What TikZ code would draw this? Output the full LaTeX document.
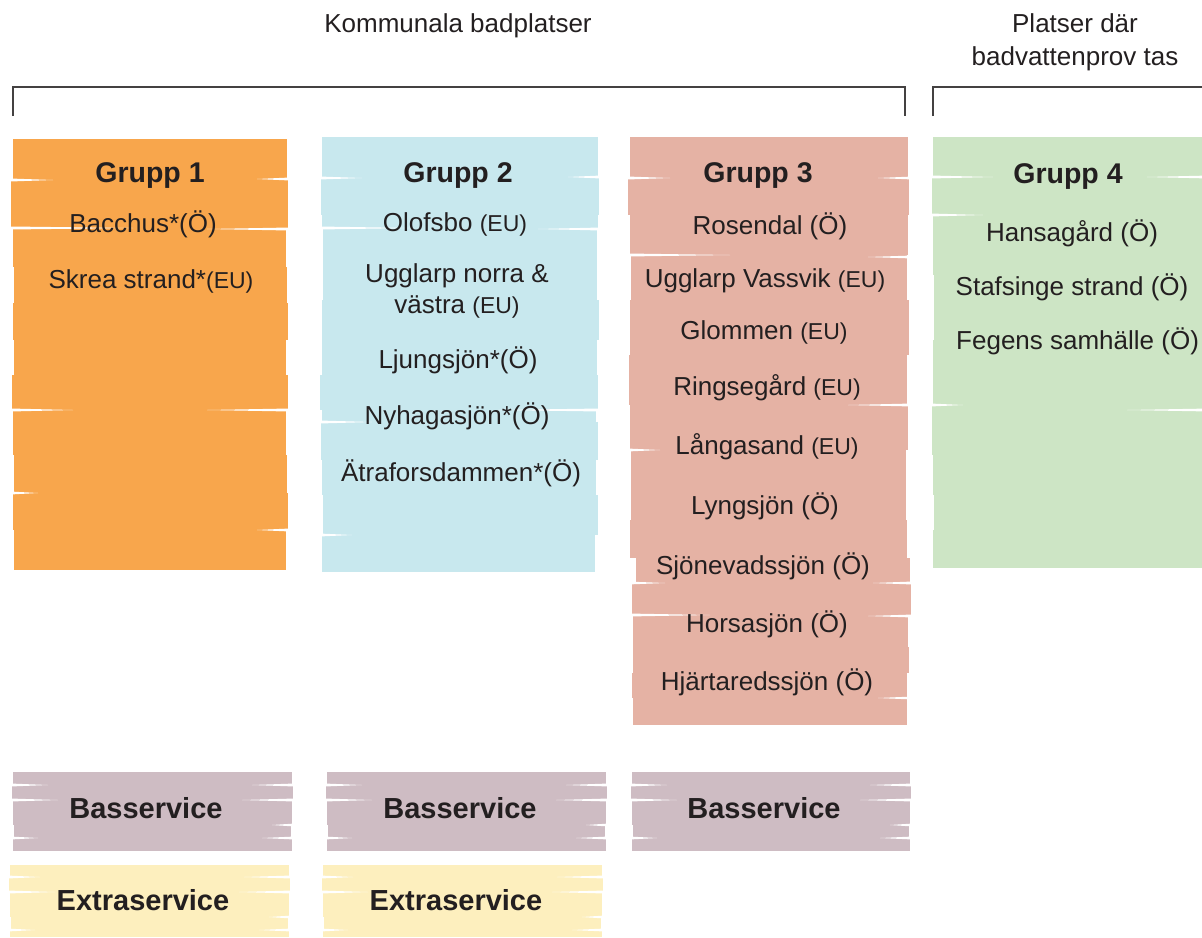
\documentclass[tikz,border=0pt]{standalone}
\usepackage{fontspec}
\setmainfont{Liberation Sans}
\usetikzlibrary{positioning}

\definecolor{grp1}{HTML}{F8A64C}
\definecolor{grp2}{HTML}{C8E8EE}
\definecolor{grp3}{HTML}{E5B2A4}
\definecolor{grp4}{HTML}{CDE5C5}
\definecolor{bas}{HTML}{CEBCC3}
\definecolor{extra}{HTML}{FDEFBE}
\definecolor{txt}{HTML}{231F20}

\newcommand{\eu}{{\fontsize{23}{28}\selectfont(EU)}}

\begin{document}
\begin{tikzpicture}[x=1pt,y=-1pt]
		\tikzset{head/.style = {text=txt,font=\bfseries\fontsize{28.5}{32}\selectfont}}
		\tikzset{service/.style = {text=txt,font=\bfseries\fontsize{29}{32}\selectfont}}
		\tikzset{site/.style = {text=txt,align=center,font=\fontsize{26}{31}\selectfont}}
		\tikzset{title/.style = {text=txt,align=center,font=\fontsize{26}{33}\selectfont}}
		\tikzset{tear/.style = {fill=white}}
		\tikzset{bracket/.style = {draw=txt!85,line width=1.6pt}}
		
		\clip (0,0) rectangle (1202,937);
		
		% Grupp 1
		\foreach \ya/\yb/\l/\r in {139/180/0/0, 180/228/-2/1, 228/267/0/-1, 267/303/1/0, 303/340/0/1, 340/375/1/-1, 375/410/-1/1, 410/455/0/-1, 455/493/1/0, 493/530/0/1, 530/570/1/-1}
			\fill[grp1] (13+\l,\ya) rectangle (287+\r,\yb);
		\foreach \y/\d in {180/40, 228/120, 410/60, 493/25}
			\fill[tear] (10,\y-1.5) -- (13+\d,\y) -- (10,\y+1.5);
		\foreach \y/\d in {179/30, 229/80, 410/80, 530/30}
			\fill[tear] (290,\y-1.5) -- (287-\d,\y) -- (290,\y+1.5);
		
		% Grupp 2
		\foreach \ya/\yb/\l/\r in {137/178/0/0, 178/215/-1/1, 215/228/0/0, 228/300/1/-1, 300/340/0/1, 340/375/0/-1, 375/410/-2/0, 410/422/0/-2, 422/460/-1/0, 460/495/0/-2, 495/535/1/0, 535/572/0/-3}
			\fill[grp2] (322+\l,\ya) rectangle (598+\r,\yb);
		\foreach \y/\d in {178/40, 228/90, 422/50, 535/30}
			\fill[tear] (319,\y-1.5) -- (322+\d,\y) -- (319,\y+1.5);
		\foreach \y/\d in {177/30, 229/60, 410/100}
			\fill[tear] (601,\y-1.5) -- (598-\d,\y) -- (601,\y+1.5);
		
		% Grupp 3
		\foreach \ya/\yb/\l/\r in {137/178/0/0, 178/215/-2/1, 215/255/0/0, 255/300/1/-1, 300/355/0/1, 355/405/-1/-1, 405/450/0/0, 450/520/1/-2, 520/558/0/-1, 558/583/6/2, 583/615/2/3, 615/647/3/0, 647/673/3/1, 673/698/2/-1, 698/725/3/-1}
			\fill[grp3] (630+\l,\ya) rectangle (908+\r,\yb);
		\foreach \y/\d in {178/40, 255/100, 450/30, 583/35, 615/80}
			\fill[tear] (627,\y-1.5) -- (630+\d,\y) -- (627,\y+1.5);
		\foreach \y/\d in {178/30, 257/40, 405/60, 583/35, 616/40, 698/30}
			\fill[tear] (913,\y-1.5) -- (908-\d,\y) -- (913,\y+1.5);
		
		% Grupp 4
		\foreach \ya/\yb/\l in {137/177/0, 177/215/-1, 215/275/0, 275/340/1, 340/405/0, 405/455/-1, 455/495/0, 495/530/1, 530/568/0}
			\fill[grp4] (933+\l,\ya) rectangle (1207,\yb);
		\foreach \y/\d in {177/60, 215/50, 405/30}
			\fill[tear] (930,\y-1.5) -- (933+\d,\y) -- (930,\y+1.5);
		\foreach \y/\d in {177/60, 410/80}
			\fill[tear] (1210,\y-1.5) -- (1207-\d,\y) -- (1210,\y+1.5);
		
		% Basservice
		\foreach \xa/\xb in {13/292, 327/606, 632/910} {
			\foreach \ya/\yb/\l/\r in {772/785/0/0, 785/800/-1/1, 800/825/0/0, 825/838/1/-1, 838/851/0/0}
				\fill[bas] (\xa+\l,\ya) rectangle (\xb+\r,\yb);
			\foreach \y/\d in {785/35, 800/45, 838/25}
				\fill[tear] (\xa-3,\y-1.5) -- (\xa+\d,\y) -- (\xa-3,\y+1.5);
			\foreach \y/\d in {785/40, 800/50, 825/20, 838/30}
				\fill[tear] (\xb+3,\y-1.5) -- (\xb-\d,\y) -- (\xb+3,\y+1.5);
		}
		
		% Extraservice
		\foreach \xa/\xb in {10/289, 323/602} {
			\foreach \ya/\yb/\l/\r in {865/877/0/0, 877/892/-1/1, 892/917/0/0, 917/930/1/-1, 930/937/0/0}
				\fill[extra] (\xa+\l,\ya) rectangle (\xb+\r,\yb);
			\foreach \y/\d in {877/30, 892/45, 930/25}
				\fill[tear] (\xa-3,\y-1.5) -- (\xa+\d,\y) -- (\xa-3,\y+1.5);
			\foreach \y/\d in {877/45, 892/50, 917/20, 930/30}
				\fill[tear] (\xb+3,\y-1.5) -- (\xb-\d,\y) -- (\xb+3,\y+1.5);
		}
		
		\node[title] (kom) at (458,26) {Kommunala badplatser};
		\node[title] (prov) at (1075,42) {Platser där\\badvattenprov tas};
		
		\coordinate (k1) at (13,116);
		\coordinate (k2) at (905,87);
		\coordinate (k3) at (905,116);
		\coordinate (p1) at (933,116);
		\coordinate (p2) at (1204,87);
		\draw[bracket] (k1) |- (k2) -- (k3);
		\draw[bracket] (p1) |- (p2);
		
		\node[head] (g1) at (150,176) {Grupp 1};
		\node[site] (g1a) at (143,224) {Bacchus*(Ö)};
		\node[site] (g1b) at (151,281) {Skrea strand*\eu};
		
		\node[head] (g2) at (458,176) {Grupp 2};
		\node[site] (g2a) at (455,224) {Olofsbo \eu};
		\node[site] (g2b) at (457,291) {Ugglarp norra \&\\västra \eu};
		\node[site] (g2c) at (458,360) {Ljungsjön*(Ö)};
		\node[site] (g2d) at (457,416) {Nyhagasjön*(Ö)};
		\node[site] (g2e) at (461,473) {Ätraforsdammen*(Ö)};
		
		\node[head] (g3) at (758,176) {Grupp 3};
		\node[site] (g3a) at (770,226) {Rosendal (Ö)};
		\node[site] (g3b) at (765,281) {Ugglarp Vassvik \eu};
		\node[site] (g3c) at (764,332) {Glommen \eu};
		\node[site] (g3d) at (767,388) {Ringsegård \eu};
		\node[site] (g3e) at (767,447) {Långasand \eu};
		\node[site] (g3f) at (765,506) {Lyngsjön (Ö)};
		\node[site] (g3g) at (763,566) {Sjönevadssjön (Ö)};
		\node[site] (g3h) at (767,624) {Horsasjön (Ö)};
		\node[site] (g3i) at (767,682) {Hjärtaredssjön (Ö)};
		
		\node[head] (g4) at (1068,177) {Grupp 4};
		\node[site] (g4a) at (1072,233) {Hansagård (Ö)};
		\node[site] (g4b) at (1072,287) {Stafsinge strand (Ö)};
		\node[site,anchor=west,inner sep=0pt] (g4c) at (956,341) {Fegens samhälle (Ö)};
		
		\node[service] (b1) at (146,808) {Basservice};
		\node[service] (b2) at (460,808) {Basservice};
		\node[service] (b3) at (764,808) {Basservice};
		\node[service] (e1) at (143,900) {Extraservice};
		\node[service] (e2) at (456,900) {Extraservice};
\end{tikzpicture}
\end{document}
